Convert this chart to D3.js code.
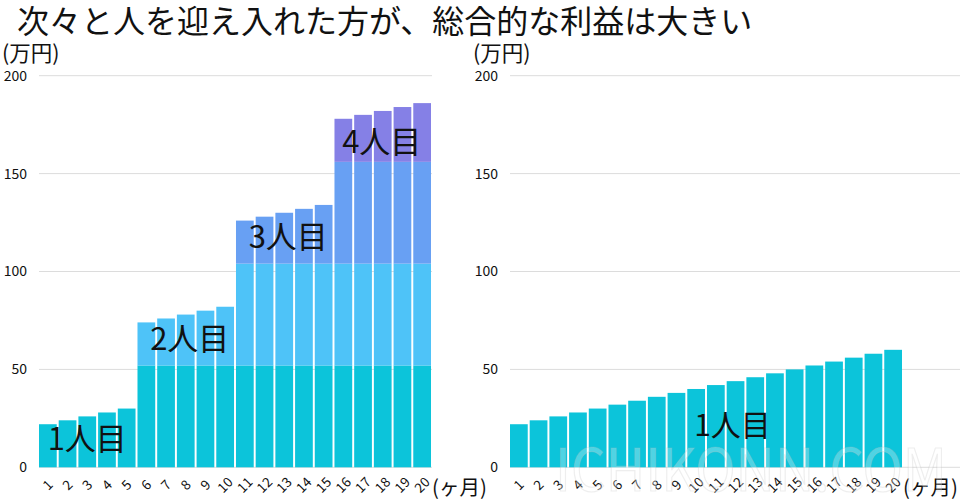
<!DOCTYPE html>
<html><head><meta charset="utf-8">
<script src="https://cdn.jsdelivr.net/npm/d3@7"></script>
<style>
html,body{margin:0;padding:0;background:#fff;}
svg{display:block;}
text{font-family:"Noto Sans CJK JP","Noto Sans",sans-serif;}
</style></head>
<body>
<svg id="chart" width="960" height="504"></svg>
<script>
const title = "次々と人を迎え入れた方が、総合的な利益は大きい";
const months = ["1","2","3","4","5","6","7","8","9","10","11","12","13","14","15","16","17","18","19","20"];
const person1 = [22,24,26,28,30,52,52,52,52,52,52,52,52,52,52,52,52,52,52,52];
const person2 = [0,0,0,0,0,22,24,26,28,30,52,52,52,52,52,52,52,52,52,52];
const person3 = [0,0,0,0,0,0,0,0,0,0,22,24,26,28,30,52,52,52,52,52];
const person4 = [0,0,0,0,0,0,0,0,0,0,0,0,0,0,0,22,24,26,28,30];
const single = [22,24,26,28,30,32,34,36,38,40,42,44,46,48,50,52,54,56,58,60];
const yTicks = [0,50,100,150,200];
const layerNames = ["1人目","2人目","3人目","4人目"];
const colors = ["#0cc4da","#4ec3f8","#68a0f3","#8580e6"];

const svg = d3.select("#chart");
svg.append("rect").attr("width",960).attr("height",504).attr("fill","#fff");

svg.append("text").attr("x",17).attr("y",33).attr("font-size",32).attr("fill","#111").text(title);

function panel(x0, x1, gridEnd, rows, labels) {
  const y = d3.scaleLinear().domain([0,200]).range([467.3,75.7]);
  const x = d3.scaleBand().domain(months).range([x0,x1]).paddingInner(0.1).paddingOuter(0);
  const g = svg.append("g");
  g.selectAll("line.grid").data(yTicks).join("line")
    .attr("x1",x0).attr("x2",gridEnd).attr("y1",d=>y(d)).attr("y2",d=>y(d))
    .attr("stroke","#dcdcdc").attr("stroke-width",1);
  g.selectAll("text.yl").data(yTicks).join("text")
    .attr("x",x0-12).attr("y",d=>y(d)).attr("dy","0.35em").attr("text-anchor","end")
    .attr("font-size",14).attr("fill","#111").text(d=>d);
  g.append("text").attr("x",x0-37).attr("y",61).attr("font-size",21.5).attr("fill","#111").text("(万円)");
  const table = months.map((m,i)=>{const o={month:m}; rows.forEach((r,k)=>o["k"+k]=r[i]); return o;});
  const stack = d3.stack().keys(rows.map((r,k)=>"k"+k))(table);
  stack.forEach((layer,k)=>{
    g.selectAll(null).data(layer.filter(d=>d[1]>d[0])).join("rect")
      .attr("x",d=>x(d.data.month)).attr("width",x.bandwidth())
      .attr("y",d=>y(d[1])).attr("height",d=>y(d[0])-y(d[1]))
      .attr("fill",colors[k]);
  });
  g.selectAll("text.xl").data(months).join("text")
    .attr("transform",d=>`translate(${x(d)+x.bandwidth()/2},${485}) rotate(-45)`)
    .attr("text-anchor","middle").attr("dy","0.35em").attr("font-size",13.5).attr("fill","#111").text(d=>d);
  g.append("text").attr("x",x1+1).attr("y",495).attr("font-size",20.5).attr("fill","#111").text("(ヶ月)");
  labels.forEach(l=>{
    g.append("text").attr("x",x(l.m)+x.bandwidth()/2+l.dx).attr("y",y(l.v))
      .attr("text-anchor","middle").attr("font-size",l.fs).attr("fill","#111").text(l.t);
  });
  return {x,y};
}

panel(39, 431, 432, [person1,person2,person3,person4], [
  {t:layerNames[0], m:"3", v:9, dx:0, fs:31},
  {t:layerNames[1], m:"8", v:60, dx:4, fs:31},
  {t:layerNames[2], m:"13", v:112, dx:4, fs:31},
  {t:layerNames[3], m:"18", v:160.5, dx:-1, fs:31}
]);
panel(510, 902, 960, [single], [
  {t:layerNames[0], m:"12", v:16, dx:-3, fs:30}
]);

svg.append("text").attr("x",555).attr("y",491).attr("font-size",58)
  .attr("font-family","Lato, sans-serif")
  .attr("textLength",392).attr("lengthAdjust","spacingAndGlyphs")
  .attr("fill","#ffffff").attr("fill-opacity",0.28)
  .attr("stroke","#bdbdbd").attr("stroke-opacity",0.25).attr("stroke-width",1.2)
  .text("ICHIKONN.COM");
</script>
</body></html>
